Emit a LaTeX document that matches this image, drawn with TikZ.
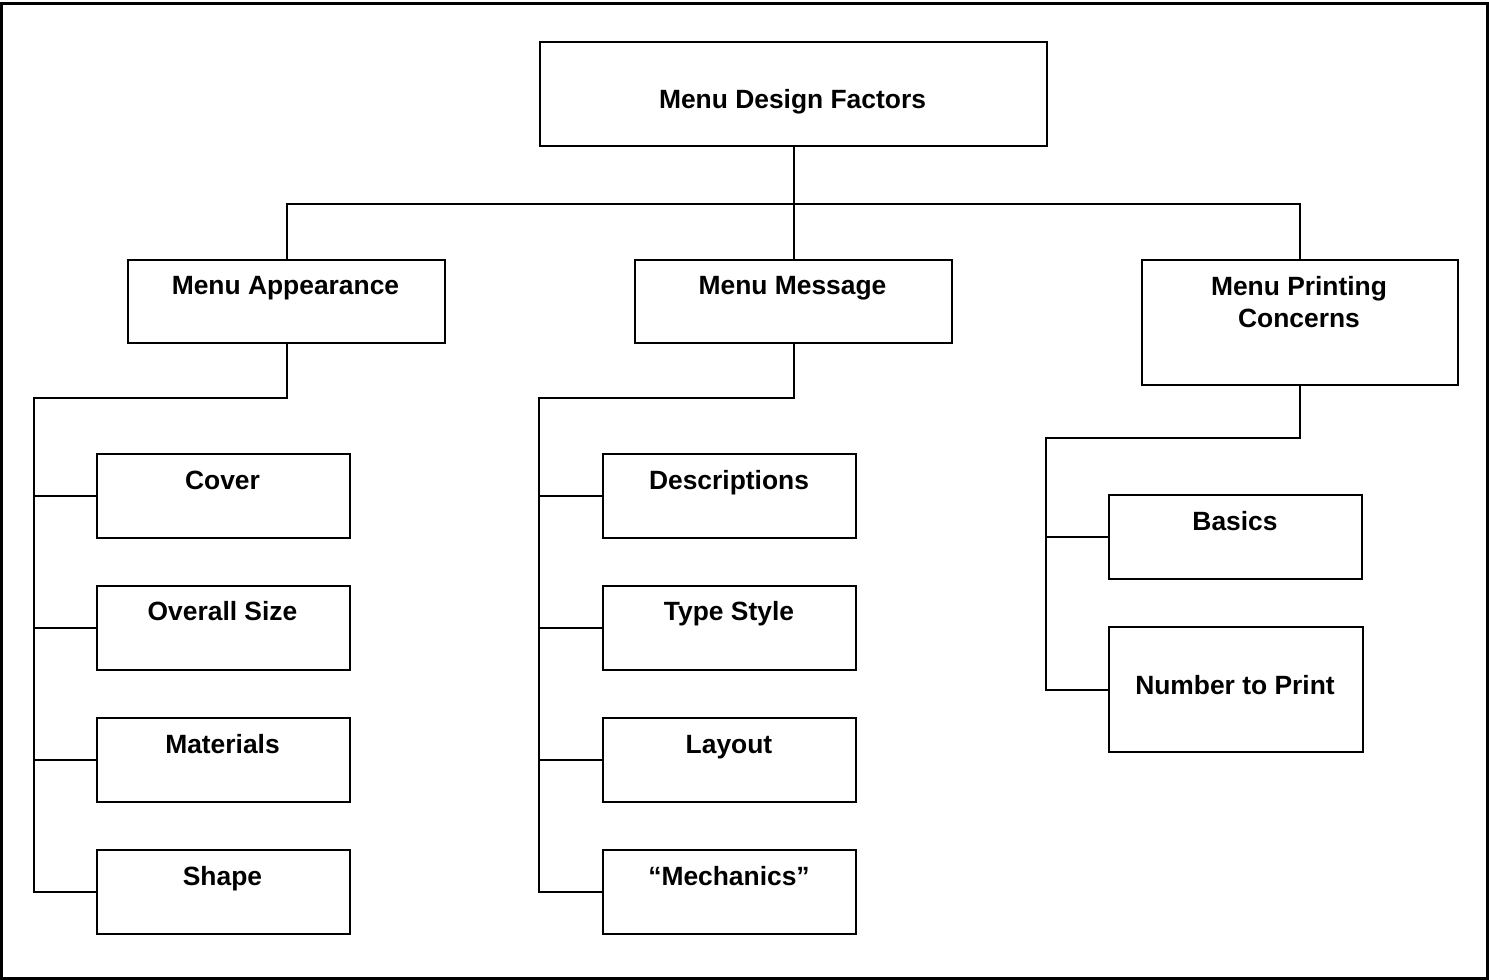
\documentclass[tikz,border=0pt]{standalone}
\usepackage{fontspec}
\setmainfont{Liberation Sans}
\begin{document}
\begin{tikzpicture}[x=0.5pt,y=-0.5pt,
  box/.style={draw, line width=1pt, inner sep=0pt, anchor=north west},
  topbox/.style={box, minimum width=158.5pt, minimum height=41.5pt},
  leafbox/.style={box, minimum width=126.5pt, minimum height=42pt},
  lbl/.style={anchor=base, inner sep=0pt, font=\bfseries\fontsize{13.2}{16}\selectfont, align=center},
  conn/.style={line width=1pt}]
\useasboundingbox (0,0) rectangle (1489,980);
\draw[line width=1.5pt] (1,3) rectangle (1487.5,978.5);
% boxes
\node[box, minimum width=253.5pt, minimum height=52pt] (root) at (539,41) {};
\node[topbox] (app) at (127,259) {};
\node[topbox] (msg) at (634,259) {};
\node[box, minimum width=158pt, minimum height=62.5pt] (prt) at (1141,259) {};
\node[leafbox] (cover) at (96,453) {};
\node[leafbox] (size) at (96,585) {};
\node[leafbox] (mat) at (96,717) {};
\node[leafbox] (shape) at (96,849) {};
\node[leafbox] (desc) at (602,453) {};
\node[leafbox] (type) at (602,585) {};
\node[leafbox] (layout) at (602,717) {};
\node[leafbox] (mech) at (602,849) {};
\node[leafbox] (basics) at (1108,494) {};
\node[box, minimum width=127pt, minimum height=62.5pt] (num) at (1108,626) {};
% labels
\node[lbl] (troot) at (792.5,108.7) {Menu Design Factors};
\node[lbl] (tapp) at (285.5,294.5) {Menu Appearance};
\node[lbl] (tmsg) at (792.5,294.5) {Menu Message};
\node[lbl] (tprt) at (1299,327.5) {Menu Printing\\Concerns};
\node[lbl] (tcover) at (222.5,489.5) {Cover};
\node[lbl] (tsize) at (222.5,620.5) {Overall Size};
\node[lbl] (tmat) at (222.5,753.5) {Materials};
\node[lbl] (tshape) at (222.5,885.5) {Shape};
\node[lbl] (tdesc) at (729,489.5) {Descriptions};
\node[lbl] (ttype) at (729,620.5) {Type Style};
\node[lbl] (tlayout) at (729,753.5) {Layout};
\node[lbl] (tmech) at (729,885.5) {“Mechanics”};
\node[lbl] (tbasics) at (1235,530.5) {Basics};
\node[lbl] (tnum) at (1235,694.5) {Number to Print};
% connectors
\coordinate (bus) at (792.5,204);
\coordinate (spA) at (34,398);
\coordinate (spM) at (539,398);
\coordinate (spP) at (1046,438);
\draw[conn] (root.south) -- (root.south |- bus);
\draw[conn] (app.north) |- (bus) -| (prt.north);
\draw[conn] (msg.north) -- (msg.north |- bus);
\draw[conn] (app.south) |- (spA) |- (shape.west);
\draw[conn] (cover.west) -- (cover.west -| spA);
\draw[conn] (size.west) -- (size.west -| spA);
\draw[conn] (mat.west) -- (mat.west -| spA);
\draw[conn] (msg.south) |- (spM) |- (mech.west);
\draw[conn] (desc.west) -- (desc.west -| spM);
\draw[conn] (type.west) -- (type.west -| spM);
\draw[conn] (layout.west) -- (layout.west -| spM);
\draw[conn] (prt.south) |- (spP) |- (num.west);
\draw[conn] (basics.west) -- (basics.west -| spP);
\end{tikzpicture}
\end{document}
